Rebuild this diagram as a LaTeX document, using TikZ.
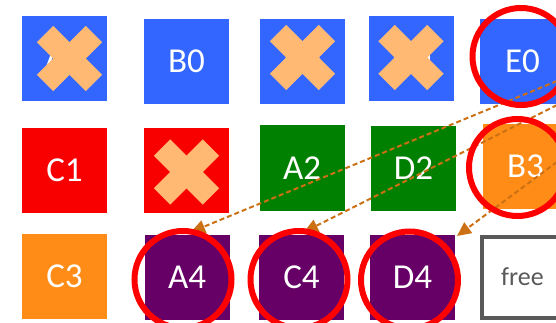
\documentclass[tikz,border=0pt]{standalone}
\usepackage{fontspec}
\setmainfont{Carlito}
\usetikzlibrary{arrows.meta}
\definecolor{cblue}{RGB}{51,102,255}
\definecolor{cred}{RGB}{248,0,0}
\definecolor{cgreen}{RGB}{0,128,0}
\definecolor{corange}{RGB}{255,140,22}
\definecolor{cpurple}{RGB}{102,0,102}
\definecolor{cx}{RGB}{255,185,115}
\definecolor{carrow}{RGB}{204,112,20}
\definecolor{cring}{RGB}{255,0,0}
\definecolor{cgray}{RGB}{89,89,89}
\begin{document}
\begin{tikzpicture}[x=1pt,y=-1pt,
  cell/.style={rectangle,minimum width=85pt,minimum height=85pt,inner sep=0pt,outer sep=0pt,text=white,font=\fontsize{35}{42}\selectfont},
  freecell/.style={rectangle,draw=cgray,line width=4pt,fill=white,minimum width=81pt,minimum height=81pt,inner sep=0pt,text=cgray,font=\fontsize{26}{32}\selectfont},
  ringst/.style={circle,draw=cring,line width=6pt,minimum size=97pt,inner sep=0pt},
  link/.style={draw=carrow,line width=2pt,dash pattern=on 5pt off 3pt,-{Triangle[length=14pt,width=13pt,fill=carrow]}},
  xmark/.pic={\fill[cx,rotate=45] (-34.5,-11.5) rectangle (34.5,11.5);
              \fill[cx,rotate=-45] (-34.5,-11.5) rectangle (34.5,11.5);}]
\useasboundingbox (0,0) rectangle (556,323);
% row 0
\node[cell,fill=cblue] (A0) at (64,58.5) {A0};
\node[cell,fill=cblue] (B0) at (186.5,61.5) {B0};
\node[cell,fill=cblue] (C0) at (302.5,61.5) {C0};
\node[cell,fill=cblue] (D0) at (411.5,58.5) {D0};
\node[cell,fill=cblue] (E0) at (522.5,61.5) {E0};
% row 1
\node[cell,fill=cred] (C1) at (64.5,170.5) {C1};
\node[cell,fill=cred] (B1) at (186.5,170.5) {B1};
\node[cell,fill=cgreen] (A2) at (302,168) {A2};
\node[cell,fill=cgreen] (D2) at (413.5,168.5) {D2};
\node[cell,fill=corange] (B3) at (525.5,166.5) {B3};
% row 2
\node[cell,fill=corange] (C3) at (64.5,276.5) {C3};
\node[cell,fill=cpurple] (A4) at (187,277.5) {A4};
\node[cell,fill=cpurple] (C4) at (301.5,277.5) {C4};
\node[cell,fill=cpurple] (D4) at (412.5,277.5) {D4};
\node[freecell] (free) at (522.5,277) {free};
% crosses
\pic at (69.5,58.5) {xmark};
\pic at (302.5,57.5) {xmark};
\pic at (411,57.5) {xmark};
\pic at (186.5,172) {xmark};
% connectors
\coordinate (sA) at (557,81);
\coordinate (sB) at (557,105);
\coordinate (sC) at (557,162);
\draw[link] (sA) -- ([xshift=4pt,yshift=3pt]A4.north);
\draw[link] (sB) -- ([xshift=2.5pt,yshift=3pt]C4.north);
\draw[link] (sC) -- ([xshift=2pt,yshift=-1pt]D4.north east);
% rings
\node[ringst] (rE0) at (521,56.5) {};
\node[ringst] (rB3) at (517.5,167.5) {};
\node[ringst] (rA4) at (183,279.5) {};
\node[ringst] (rC4) at (299,279.5) {};
\node[ringst] (rD4) at (409.5,280) {};
\end{tikzpicture}
\end{document}
